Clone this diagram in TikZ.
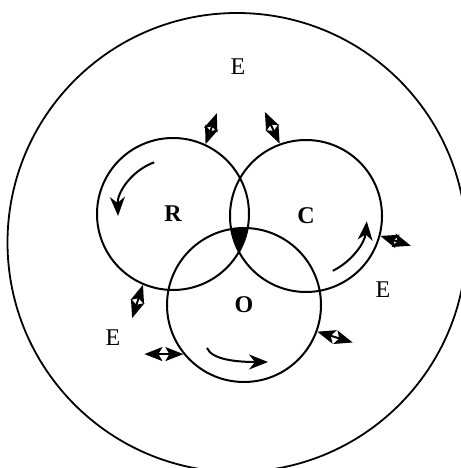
\documentclass[tikz,border=0pt]{standalone}
\usepackage{fontspec}
\setmainfont{Liberation Serif}
\usepackage{tikz}
\usetikzlibrary{arrows.meta, calc}

\begin{document}
\begin{tikzpicture}[>=Stealth, x=1pt, y=1pt,
    ring/.style={circle, draw, line width=2pt, inner sep=0pt, minimum size=#1,
                 font=\fontsize{24}{28}\selectfont\bfseries},
    xchg/.style={line width=2pt,
                 {Stealth[length=18pt, width=14pt, inset=4pt]}-{Stealth[length=18pt, width=14pt, inset=4pt]}},
    turn/.style={line width=2pt, -{Stealth[length=19pt, width=15pt, inset=6pt]}},
    lbl/.style={font=\fontsize{24}{28}\selectfont}]

\useasboundingbox (0,0) rectangle (460,468);

% ============================================================
% environment and the three subsystems
% ============================================================

\node[ring=459pt, line width=1.8pt] (env) at (237,225.5) {};

\node[ring=152pt] (R) at (173,254) {R};
\node[ring=152pt] (C) at (306,252) {C};
\node[ring=154pt] (O) at (244,163) {O};

% common part of R, C and O
\begin{scope}
    \clip (R.center) circle (76);
    \clip (C.center) circle (76);
    \fill (O.center) circle (77);
\end{scope}

\node[lbl] (e1) at (238,401) {E};
\node[lbl] (e2) at (383,178) {E};
\node[lbl] (e3) at (113,130) {E};

% ============================================================
% internal turnover
% ============================================================

\draw[turn] ([shift={(110:55)}]R.center) arc[start angle=110, end angle=182, radius=55];
\draw[turn] ([shift={(-64:61)}]C.center) arc[start angle=-64, end angle=-5, radius=61];
\draw[turn] ([shift={(-37,-43)}]O.center)
    .. controls +(5,-12) and +(-30,0) .. ([shift={(24,-57)}]O.center);

% ============================================================
% exchange with the environment
% ============================================================

\foreach \s/\a/\d/\l in {R/65/70/33, C/110/115/35, C/-15/-18/32,
                         O/-20/-17/37, R/-113/-108/35, O/-141/180/39} {
    \draw[xchg] (\s.\a) -- ++(\d:\l);
}

\end{tikzpicture}
\end{document}
